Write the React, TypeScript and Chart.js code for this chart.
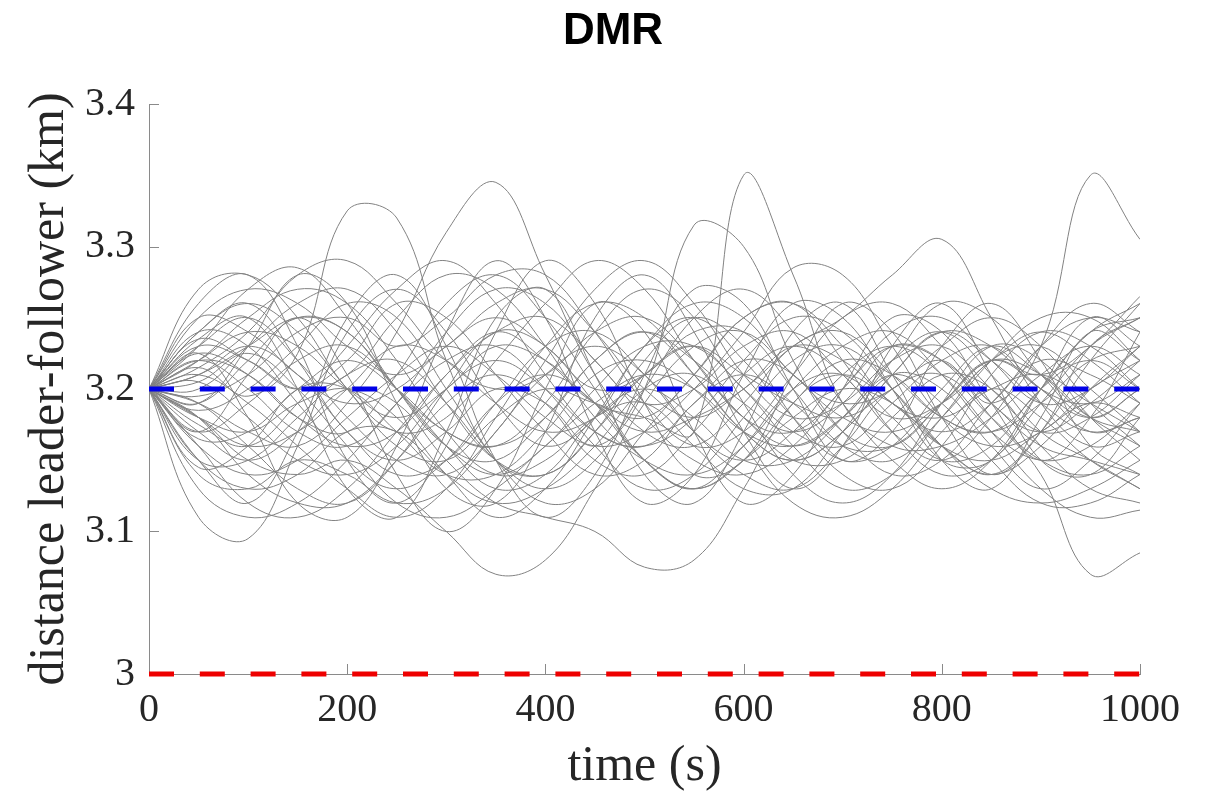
import React, { useEffect, useRef } from "react";
import { Chart, registerables } from "chart.js";

Chart.register(...registerables);

// time samples (s)
const times = [0, 50, 100, 150, 200, 250, 300, 350, 400, 450, 500, 550, 600, 650, 700, 750, 800, 850, 900, 950, 1000];

// distance leader-follower (km) for each simulation run
const run01 = [3.200, 3.230, 3.270, 3.285, 3.250, 3.200, 3.160, 3.150, 3.180, 3.220, 3.240, 3.210, 3.170, 3.150, 3.170, 3.210, 3.240, 3.220, 3.190, 3.170, 3.180];
const run02 = [3.200, 3.215, 3.195, 3.225, 3.325, 3.320, 3.220, 3.150, 3.140, 3.170, 3.210, 3.230, 3.200, 3.170, 3.160, 3.190, 3.220, 3.230, 3.200, 3.180, 3.200];
const run03 = [3.200, 3.110, 3.095, 3.160, 3.240, 3.270, 3.240, 3.190, 3.160, 3.180, 3.230, 3.250, 3.220, 3.180, 3.150, 3.160, 3.200, 3.230, 3.210, 3.180, 3.170];
const run04 = [3.200, 3.190, 3.170, 3.160, 3.190, 3.240, 3.310, 3.345, 3.280, 3.210, 3.170, 3.160, 3.190, 3.230, 3.240, 3.210, 3.180, 3.170, 3.190, 3.220, 3.230];
const run05 = [3.200, 3.180, 3.150, 3.140, 3.150, 3.130, 3.100, 3.070, 3.080, 3.130, 3.190, 3.230, 3.240, 3.210, 3.180, 3.170, 3.190, 3.220, 3.210, 3.180, 3.160];
const run06 = [3.200, 3.220, 3.210, 3.180, 3.160, 3.170, 3.210, 3.240, 3.220, 3.190, 3.180, 3.170, 3.350, 3.280, 3.190, 3.160, 3.160, 3.180, 3.210, 3.230, 3.210];
const run07 = [3.200, 3.240, 3.260, 3.220, 3.170, 3.150, 3.170, 3.200, 3.190, 3.160, 3.200, 3.315, 3.300, 3.220, 3.170, 3.160, 3.190, 3.220, 3.200, 3.170, 3.180];
const run08 = [3.200, 3.180, 3.160, 3.170, 3.200, 3.230, 3.220, 3.190, 3.170, 3.180, 3.210, 3.230, 3.210, 3.190, 3.180, 3.200, 3.220, 3.190, 3.230, 3.350, 3.305];
const run09 = [3.200, 3.210, 3.230, 3.250, 3.240, 3.200, 3.170, 3.160, 3.180, 3.220, 3.240, 3.220, 3.190, 3.170, 3.190, 3.230, 3.220, 3.180, 3.140, 3.070, 3.085];
const run10 = [3.200, 3.170, 3.150, 3.170, 3.200, 3.190, 3.150, 3.120, 3.110, 3.100, 3.075, 3.080, 3.130, 3.190, 3.210, 3.190, 3.160, 3.150, 3.170, 3.190, 3.180];
const run11 = [3.200, 3.220, 3.240, 3.230, 3.200, 3.180, 3.200, 3.230, 3.220, 3.190, 3.170, 3.180, 3.200, 3.230, 3.250, 3.280, 3.305, 3.250, 3.190, 3.160, 3.170];
const run12 = [3.200, 3.160, 3.140, 3.150, 3.180, 3.210, 3.230, 3.210, 3.180, 3.160, 3.170, 3.200, 3.240, 3.285, 3.280, 3.230, 3.180, 3.160, 3.170, 3.200, 3.220];
const run13 = [3.200, 3.250, 3.270, 3.260, 3.230, 3.210, 3.230, 3.260, 3.270, 3.240, 3.200, 3.180, 3.200, 3.230, 3.220, 3.190, 3.170, 3.190, 3.230, 3.250, 3.240];
const run14 = [3.200, 3.140, 3.130, 3.150, 3.140, 3.120, 3.130, 3.170, 3.210, 3.230, 3.210, 3.170, 3.140, 3.130, 3.160, 3.200, 3.210, 3.180, 3.150, 3.140, 3.160];
const run15 = [3.200, 3.210, 3.190, 3.160, 3.130, 3.110, 3.130, 3.180, 3.230, 3.260, 3.250, 3.210, 3.170, 3.150, 3.170, 3.210, 3.240, 3.230, 3.200, 3.190, 3.210];
const run16 = [3.200, 3.230, 3.220, 3.200, 3.210, 3.250, 3.280, 3.270, 3.230, 3.180, 3.150, 3.140, 3.160, 3.200, 3.230, 3.240, 3.210, 3.170, 3.150, 3.160, 3.190];
const run17 = [3.200, 3.185, 3.200, 3.230, 3.260, 3.250, 3.200, 3.150, 3.120, 3.130, 3.170, 3.210, 3.250, 3.260, 3.220, 3.170, 3.140, 3.150, 3.190, 3.230, 3.250];
const run18 = [3.200, 3.160, 3.120, 3.110, 3.130, 3.170, 3.210, 3.240, 3.250, 3.220, 3.180, 3.150, 3.140, 3.160, 3.200, 3.230, 3.220, 3.190, 3.160, 3.150, 3.140];
const run19 = [3.200, 3.270, 3.280, 3.250, 3.200, 3.170, 3.180, 3.220, 3.260, 3.290, 3.270, 3.220, 3.180, 3.160, 3.180, 3.220, 3.260, 3.250, 3.210, 3.180, 3.200];
const run20 = [3.200, 3.220, 3.200, 3.170, 3.160, 3.190, 3.240, 3.270, 3.260, 3.220, 3.190, 3.200, 3.230, 3.240, 3.210, 3.180, 3.190, 3.220, 3.240, 3.220, 3.190];
const run21 = [3.200, 3.150, 3.150, 3.180, 3.210, 3.220, 3.190, 3.150, 3.130, 3.150, 3.200, 3.250, 3.270, 3.240, 3.190, 3.150, 3.130, 3.150, 3.200, 3.240, 3.260];
const run22 = [3.200, 3.200, 3.230, 3.260, 3.270, 3.240, 3.190, 3.150, 3.140, 3.170, 3.220, 3.250, 3.230, 3.180, 3.140, 3.130, 3.160, 3.210, 3.240, 3.230, 3.200];
const run23 = [3.200, 3.175, 3.160, 3.190, 3.230, 3.270, 3.290, 3.260, 3.210, 3.170, 3.160, 3.180, 3.220, 3.250, 3.240, 3.200, 3.160, 3.140, 3.160, 3.200, 3.230];
const run24 = [3.200, 3.240, 3.230, 3.190, 3.150, 3.130, 3.150, 3.190, 3.210, 3.190, 3.150, 3.130, 3.150, 3.190, 3.220, 3.210, 3.180, 3.170, 3.200, 3.240, 3.250];
const run25 = [3.200, 3.190, 3.220, 3.250, 3.240, 3.200, 3.160, 3.140, 3.160, 3.200, 3.230, 3.230, 3.200, 3.160, 3.130, 3.140, 3.180, 3.220, 3.230, 3.200, 3.170];
const run26 = [3.200, 3.130, 3.110, 3.120, 3.150, 3.190, 3.220, 3.230, 3.200, 3.160, 3.130, 3.140, 3.180, 3.220, 3.230, 3.200, 3.160, 3.130, 3.120, 3.130, 3.150];
const run27 = [3.200, 3.215, 3.240, 3.280, 3.290, 3.260, 3.220, 3.200, 3.210, 3.240, 3.250, 3.220, 3.180, 3.170, 3.200, 3.240, 3.250, 3.220, 3.190, 3.200, 3.230];
const run28 = [3.200, 3.205, 3.180, 3.150, 3.140, 3.160, 3.200, 3.220, 3.200, 3.170, 3.160, 3.190, 3.220, 3.210, 3.170, 3.140, 3.150, 3.190, 3.220, 3.210, 3.190];
const run29 = [3.200, 3.230, 3.250, 3.220, 3.180, 3.150, 3.140, 3.170, 3.220, 3.270, 3.290, 3.260, 3.210, 3.180, 3.190, 3.220, 3.230, 3.200, 3.170, 3.180, 3.210];
const run30 = [3.200, 3.170, 3.190, 3.220, 3.230, 3.200, 3.160, 3.130, 3.140, 3.180, 3.200, 3.180, 3.150, 3.150, 3.180, 3.220, 3.240, 3.210, 3.170, 3.150, 3.130];
const run31 = [3.200, 3.190, 3.160, 3.130, 3.120, 3.150, 3.200, 3.240, 3.230, 3.190, 3.150, 3.130, 3.160, 3.200, 3.210, 3.180, 3.150, 3.160, 3.200, 3.220, 3.200];
const run32 = [3.200, 3.240, 3.260, 3.240, 3.200, 3.160, 3.150, 3.180, 3.200, 3.190, 3.180, 3.210, 3.250, 3.260, 3.230, 3.190, 3.180, 3.200, 3.210, 3.190, 3.170];
const run33 = [3.200, 3.165, 3.170, 3.200, 3.220, 3.200, 3.170, 3.160, 3.190, 3.240, 3.270, 3.250, 3.190, 3.140, 3.120, 3.140, 3.190, 3.230, 3.220, 3.180, 3.150];
const run34 = [3.200, 3.220, 3.250, 3.270, 3.260, 3.220, 3.170, 3.140, 3.150, 3.180, 3.190, 3.160, 3.130, 3.130, 3.170, 3.210, 3.200, 3.160, 3.130, 3.150, 3.190];
const run35 = [3.200, 3.180, 3.140, 3.120, 3.120, 3.150, 3.190, 3.210, 3.190, 3.150, 3.140, 3.170, 3.210, 3.230, 3.210, 3.170, 3.150, 3.180, 3.230, 3.260, 3.240];
const run36 = [3.200, 3.250, 3.240, 3.210, 3.190, 3.200, 3.230, 3.250, 3.230, 3.200, 3.210, 3.240, 3.240, 3.200, 3.160, 3.150, 3.180, 3.220, 3.250, 3.250, 3.220];
const run37 = [3.200, 3.195, 3.210, 3.240, 3.250, 3.230, 3.250, 3.280, 3.280, 3.240, 3.190, 3.160, 3.170, 3.210, 3.250, 3.260, 3.230, 3.190, 3.170, 3.190, 3.220];
const run38 = [3.200, 3.150, 3.130, 3.140, 3.170, 3.170, 3.140, 3.120, 3.130, 3.160, 3.200, 3.210, 3.180, 3.150, 3.150, 3.180, 3.210, 3.200, 3.160, 3.130, 3.120];
const run39 = [3.200, 3.225, 3.210, 3.180, 3.170, 3.210, 3.260, 3.280, 3.250, 3.200, 3.150, 3.130, 3.150, 3.180, 3.200, 3.190, 3.160, 3.140, 3.170, 3.220, 3.260];
const run40 = [3.200, 3.180, 3.170, 3.190, 3.200, 3.180, 3.140, 3.110, 3.130, 3.180, 3.230, 3.260, 3.250, 3.210, 3.190, 3.200, 3.230, 3.250, 3.230, 3.190, 3.160];
const run41 = [3.200, 3.210, 3.230, 3.210, 3.170, 3.140, 3.150, 3.190, 3.230, 3.240, 3.210, 3.170, 3.150, 3.170, 3.210, 3.230, 3.210, 3.170, 3.130, 3.110, 3.115];
const run42 = [3.200, 3.235, 3.220, 3.200, 3.220, 3.260, 3.250, 3.210, 3.170, 3.140, 3.150, 3.190, 3.210, 3.190, 3.160, 3.160, 3.190, 3.220, 3.210, 3.230, 3.265];
const run43 = [3.200, 3.145, 3.160, 3.200, 3.200, 3.170, 3.140, 3.140, 3.170, 3.210, 3.220, 3.200, 3.160, 3.120, 3.110, 3.130, 3.170, 3.200, 3.180, 3.150, 3.130];
const run44 = [3.200, 3.205, 3.225, 3.200, 3.160, 3.120, 3.110, 3.130, 3.160, 3.190, 3.210, 3.200, 3.170, 3.160, 3.180, 3.210, 3.190, 3.150, 3.120, 3.120, 3.140];
const run45 = [3.200, 3.260, 3.280, 3.230, 3.150, 3.120, 3.160, 3.240, 3.290, 3.260, 3.190, 3.140, 3.150, 3.210, 3.260, 3.240, 3.180, 3.140, 3.170, 3.230, 3.250];
const run46 = [3.200, 3.150, 3.120, 3.170, 3.250, 3.280, 3.230, 3.150, 3.110, 3.140, 3.210, 3.270, 3.260, 3.200, 3.150, 3.170, 3.230, 3.260, 3.220, 3.160, 3.140];
const run47 = [3.200, 3.190, 3.230, 3.280, 3.260, 3.190, 3.130, 3.120, 3.170, 3.250, 3.280, 3.240, 3.170, 3.130, 3.160, 3.230, 3.260, 3.210, 3.150, 3.140, 3.180];
const run48 = [3.200, 3.225, 3.180, 3.120, 3.110, 3.160, 3.240, 3.290, 3.250, 3.170, 3.120, 3.140, 3.210, 3.260, 3.250, 3.200, 3.150, 3.150, 3.200, 3.250, 3.230];
const run49 = [3.200, 3.170, 3.210, 3.250, 3.210, 3.140, 3.100, 3.130, 3.200, 3.260, 3.240, 3.170, 3.120, 3.140, 3.200, 3.250, 3.240, 3.190, 3.150, 3.180, 3.240];
const run50 = [3.200, 3.235, 3.250, 3.200, 3.130, 3.110, 3.170, 3.250, 3.270, 3.210, 3.140, 3.120, 3.170, 3.240, 3.260, 3.210, 3.150, 3.130, 3.180, 3.240, 3.220];

const runs = [
  run01, run02, run03, run04, run05, run06, run07, run08, run09, run10,
  run11, run12, run13, run14, run15, run16, run17, run18, run19, run20,
  run21, run22, run23, run24, run25, run26, run27, run28, run29, run30,
  run31, run32, run33, run34, run35, run36, run37, run38, run39, run40,
  run41, run42, run43, run44, run45, run46, run47, run48, run49, run50,
];

// reference levels (km)
const desiredDistance = 3.2;
const minimumDistance = 3.0;

// axis ticks
const xTickValues = [0, 200, 400, 600, 800, 1000];
const xTickLabels = ["0", "200", "400", "600", "800", "1000"];
const yTickValues = [3.0, 3.1, 3.2, 3.3, 3.4];
const yTickLabels = ["3", "3.1", "3.2", "3.3", "3.4"];
const chartTitle = "DMR";

const AXIS_COLOR = "#8a8a8a";
const TEXT_COLOR = "#262626";
const SERIF = "'Liberation Serif', 'Times New Roman', serif";

const inwardTicks = {
  id: "inwardTicks",
  beforeDatasetsDraw(chart: any) {
    const { ctx, chartArea, scales } = chart;
    const x = scales.x;
    const y = scales.y;
    ctx.save();
    ctx.strokeStyle = AXIS_COLOR;
    ctx.lineWidth = 1;
    xTickValues.forEach((v) => {
      const px = Math.round(x.getPixelForValue(v)) + 0.5;
      ctx.beginPath();
      ctx.moveTo(px, chartArea.bottom);
      ctx.lineTo(px, chartArea.bottom - 10);
      ctx.stroke();
    });
    yTickValues.forEach((v) => {
      const py = Math.round(y.getPixelForValue(v)) + 0.5;
      ctx.beginPath();
      ctx.moveTo(chartArea.left, py);
      ctx.lineTo(chartArea.left + 10, py);
      ctx.stroke();
    });
    ctx.restore();
  },
};

const pageTitle = {
  id: "pageTitle",
  afterDraw(chart: any) {
    const { ctx } = chart;
    ctx.save();
    ctx.fillStyle = "#000";
    ctx.font = "bold 44px 'Liberation Sans', Arial, sans-serif";
    ctx.textAlign = "center";
    ctx.textBaseline = "alphabetic";
    ctx.fillText(chartTitle, 613, 44);
    ctx.restore();
  },
};

export default function App() {
  const canvasRef = useRef<HTMLCanvasElement | null>(null);

  useEffect(() => {
    const canvas = canvasRef.current;
    if (!canvas) return;

    const grayDatasets = runs.map((run, i) => ({
      label: `run ${i + 1}`,
      data: run.map((v, k) => ({ x: times[k], y: v })),
      borderColor: "#828282",
      borderWidth: 1,
      pointRadius: 0,
      tension: 0.4,
      fill: false,
    }));

    const chart = new Chart(canvas, {
      type: "line",
      data: {
        datasets: [
          {
            label: "minimum",
            data: [
              { x: times[0], y: minimumDistance },
              { x: times[times.length - 1], y: minimumDistance },
            ],
            borderColor: "#ee0000",
            borderWidth: 5,
            borderDash: [25, 25.8],
            borderCapStyle: "butt",
            pointRadius: 0,
            clip: false,
          } as any,
          {
            label: "desired",
            data: [
              { x: times[0], y: desiredDistance },
              { x: times[times.length - 1], y: desiredDistance },
            ],
            borderColor: "#0000e6",
            borderWidth: 5,
            borderDash: [25, 25.8],
            borderCapStyle: "butt",
            pointRadius: 0,
            clip: false,
          } as any,
          ...grayDatasets,
        ],
      },
      options: {
        animation: false,
        responsive: true,
        maintainAspectRatio: false,
        layout: { padding: { left: 0, right: 71, top: 104, bottom: 0 } },
        plugins: {
          legend: { display: false },
          tooltip: { enabled: false },
          title: { display: false },
        },
        scales: {
          x: {
            type: "linear",
            min: 0,
            max: 1000,
            afterFit: (scale: any) => {
              scale.height = 119;
            },
            afterBuildTicks: (scale: any) => {
              scale.ticks = xTickValues.map((v) => ({ value: v }));
            },
            ticks: {
              autoSkip: false,
              maxRotation: 0,
              color: TEXT_COLOR,
              padding: 12,
              font: { family: SERIF, size: 40 },
              callback: (v: any) => {
                const idx = xTickValues.indexOf(Number(v));
                return idx >= 0 ? xTickLabels[idx] : "";
              },
            },
            grid: { display: false, drawTicks: false },
            border: { display: true, color: AXIS_COLOR, width: 1 },
            title: {
              display: true,
              text: "time (s)",
              color: TEXT_COLOR,
              font: { family: SERIF, size: 50, lineHeight: 1 },
              padding: { top: 0, bottom: 1 },
            },
          },
          y: {
            type: "linear",
            min: 3.0,
            max: 3.4,
            afterFit: (scale: any) => {
              scale.width = 149;
            },
            afterBuildTicks: (scale: any) => {
              scale.ticks = yTickValues.map((v) => ({ value: v }));
            },
            ticks: {
              color: TEXT_COLOR,
              padding: 14,
              font: { family: SERIF, size: 40 },
              callback: (v: any) => {
                const idx = yTickValues.findIndex((t) => Math.abs(t - Number(v)) < 1e-9);
                return idx >= 0 ? yTickLabels[idx] : "";
              },
            },
            grid: { display: false, drawTicks: false },
            border: { display: true, color: AXIS_COLOR, width: 1 },
            title: {
              display: true,
              text: "distance leader-follower (km)",
              color: TEXT_COLOR,
              font: { family: SERIF, size: 50, lineHeight: 1 },
              padding: { top: 25, bottom: 0 },
            },
          },
        },
      },
      plugins: [inwardTicks, pageTitle],
    });

    return () => chart.destroy();
  }, []);

  return (
    <div style={{ position: "absolute", left: 0, top: 0, width: 1211, height: 793, background: "#fff" }}>
      <canvas ref={canvasRef} />
    </div>
  );
}
